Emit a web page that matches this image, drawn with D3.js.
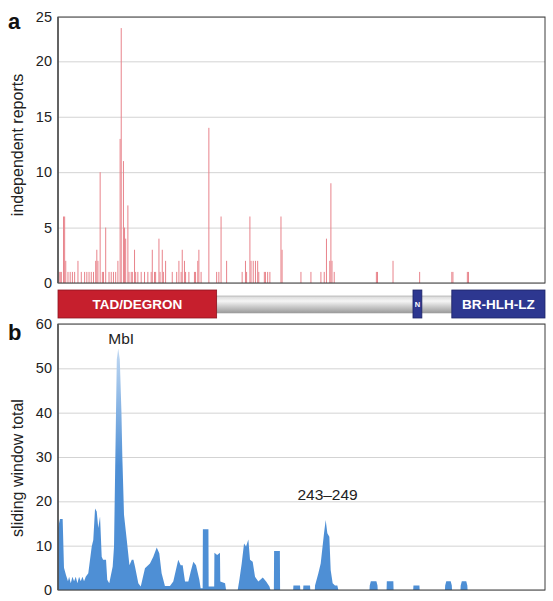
<!DOCTYPE html>
<html><head><meta charset="utf-8">
<script src="https://cdn.jsdelivr.net/npm/d3@7"></script>
<style>body{margin:0;background:#fff} svg{display:block}</style>
</head><body>
<svg id="c" width="553" height="601"></svg>
<script>
// ---------- data ----------
const proteinLength = 439;
const spikeResidues = [1,2,3,5,6,7,9,11,13,15,18,21,24,26,28,30,32,34,35,36,38,40,41,43,46,48,50,52,54,56,57,59,60,61,63,64,66,67,69,70,72,75,78,81,84,85,87,88,91,92,94,95,97,103,107,109,111,112,114,115,118,123,124,126,127,129,136,143,145,147,152,166,169,170,173,174,176,178,180,181,186,187,189,191,201,202,219,228,237,240,242,245,246,247,249,287,288,302,326,355,356,369,370];
const spikeCounts   = [1,1,1,6,6,2,1,1,1,1,2,1,1,1,1,1,1,2,3,2,10,1,1,5,1,1,1,1,2,13,23,11,5,4,7,1,1,1,3,1,1,1,1,1,1,3,1,1,4,1,3,1,2,1,1,2,1,3,2,1,1,1,1,2,3,1,14,1,1,6,2,1,2,1,6,2,2,2,2,1,1,1,1,1,6,3,1,1,1,1,4,2,9,2,1,1,1,2,1,1,1,1,1];
const windowResidues = [0,1.8,4.2,5.4,7.2,9,10,11.5,13,14.5,16,17.5,19,20.5,22,23.5,25,27.3,30.4,31.8,33.4,34.9,36.3,37.9,39.4,40.6,43.3,44.4,46.2,49.3,50.5,51.4,53,54.3,55.7,57.2,58,59.5,62,64.4,66.5,68,69.4,72.4,74.6,78.4,82.9,85.9,89,91.3,93.4,96.4,100.9,103.9,107,108.4,110.6,112.4,114.5,117.5,119.6,122,124.4,127.4,128.6,130.4,130.6,135.6,135.8,140.8,141,143.5,146,146.3,150.6,151.5,162,163.5,165.6,167.7,169.5,171.6,173.1,175.5,177.6,180.6,184.6,187.6,190.6,191.5,194.6,194.8,200,200.2,212,212.2,218.2,218.4,221,221.2,227.2,227.4,231.5,231.7,234.7,236.8,239.8,241.3,242.8,244.6,245.8,247.6,249.7,251.8,252.7,280.8,281,282,287,288,288.2,296.2,296.4,302.3,302.5,320.2,320.4,325.8,326,348.8,349,350,354,355,355.2,362.8,363,364,368,369,369.2,439];
const windowTotals   = [14,16,16,5,3.4,2,3,1.5,3,2,3,1.5,3,2,3,2,3,3.8,9.8,11.3,18.4,17.7,14,16.6,7.5,6.8,6.8,2.3,1.5,5.3,9.8,25,52,54.5,52,40,30,17,11.3,5.6,6.8,6.8,5.3,1.5,0.8,4.9,6,7.5,9.6,8.3,3.8,0.9,0.9,1.9,5.3,6.8,5.6,5.6,1.9,1.9,4.1,6.4,5.6,2.3,0.4,0.4,13.7,13.7,0.8,0.8,8.4,7.9,8.4,1.9,1.5,0,0,2.3,6,10.5,9.8,11.4,6.8,6.4,3,1.9,2.8,1.9,0.8,0,0,8.8,8.8,0,0,1,1,0,0,1,1,0,0,1,3.8,6,12.8,15.8,12.8,12,4.5,1.5,1,1,0,0,1,2,2,1,0,0,2,2,0,0,1,1,0,0,1,2,2,1,0,0,1,2,2,1,0,0];
const reportTicks = [0,5,10,15,20,25];
const windowTicks = [0,10,20,30,40,50,60];
const domainNames  = ["TAD/DEGRON","N","BR-HLH-LZ"];
const domainStarts = [0,320,355];
const domainEnds   = [143,328,439];
const linkerStart = 143, linkerEnd = 355;
const peakLabels = ["MbI","243\u2013249"];
const peakResidues = [57,243];
const peakLabelValues = [55.6,20.3];

// ---------- layout ----------
const svg = d3.select("#c");
const L = 58, R = 545;
const aTop = 17, aBot = 283, bTop = 324, bBot = 590;
const sans = "'Liberation Sans', Arial, Helvetica, sans-serif";
const x = d3.scaleLinear().domain([0, proteinLength]).range([L, R]);
const yA = d3.scaleLinear().domain([0, 24]).range([aBot, aTop]).clamp(true);
const yB = d3.scaleLinear().domain([0, 60]).range([bBot, bTop]);

const defs = svg.append("defs");
const ag = defs.append("linearGradient").attr("id","areaGrad").attr("gradientUnits","userSpaceOnUse")
  .attr("x1",0).attr("x2",0).attr("y1",yB(55)).attr("y2",yB(28));
ag.append("stop").attr("offset","0%").attr("stop-color","#c3daf3");
ag.append("stop").attr("offset","100%").attr("stop-color","#4e8fd5");
const gg = defs.append("linearGradient").attr("id","grayGrad").attr("x1",0).attr("x2",0).attr("y1",0).attr("y2",1);
gg.append("stop").attr("offset","0%").attr("stop-color","#d8d8d8");
gg.append("stop").attr("offset","30%").attr("stop-color","#f5f5f5");
gg.append("stop").attr("offset","100%").attr("stop-color","#9a9a9a");

function gridAxis(scale, ticks) {
  const g = svg.append("g").attr("transform", `translate(${L},0)`)
    .call(d3.axisLeft(scale).tickValues(ticks).tickSizeInner(-(R-L)).tickSizeOuter(0).tickPadding(6));
  g.select(".domain").remove();
  g.selectAll(".tick line").attr("stroke","#d3d3d3").attr("stroke-width",1);
  g.selectAll(".tick text").attr("font-family",sans).attr("font-size",14.5).attr("fill","#222");
  return g;
}
gridAxis(yA, reportTicks);
gridAxis(yB, windowTicks);

// ---------- panel a spikes ----------
const spikes = spikeResidues.map((r,i)=>({r, c: spikeCounts[i]}));
svg.append("g").selectAll("line").data(spikes).join("line")
  .attr("x1", d=>x(d.r)).attr("x2", d=>x(d.r))
  .attr("y1", yA(0)).attr("y2", d=>yA(d.c))
  .attr("stroke","#e8838b").attr("stroke-width",1);

// ---------- panel b area ----------
const win = windowResidues.map((r,i)=>({r, v: windowTotals[i]}));
svg.append("path").datum(win)
  .attr("d", d3.area().x(d=>x(d.r)).y0(yB(0)).y1(d=>yB(d.v)))
  .attr("fill","url(#areaGrad)");

// ---------- frames ----------
[[aTop,aBot],[bTop,bBot]].forEach(([t,b])=>{
  svg.append("rect").attr("x",L).attr("y",t).attr("width",R-L).attr("height",b-t)
    .attr("fill","none").attr("stroke","#3c3c3c").attr("stroke-width",1);
  svg.append("line").attr("x1",L).attr("x2",L).attr("y1",t).attr("y2",b)
    .attr("stroke","#555").attr("stroke-width",1.6);
});

// ---------- domain bar ----------
const barTop = 290, barH = 28;
svg.append("rect").attr("x",x(linkerStart)).attr("y",barTop+6).attr("width",x(linkerEnd)-x(linkerStart)).attr("height",barH-11)
  .attr("fill","url(#grayGrad)").attr("stroke","#a0a0a0").attr("stroke-width",0.6);
const domColors = ["#c61f2d","#2d3790","#2d3790"];
const domStroke = ["#8c1520","#1c2366","#1c2366"];
const domFont = [13.5, 7.5, 13.5];
domainNames.forEach((n,i)=>{
  const x0 = x(domainStarts[i]), x1 = x(domainEnds[i]);
  svg.append("rect").attr("x",x0).attr("y",barTop).attr("width",x1-x0).attr("height",barH)
    .attr("fill",domColors[i]).attr("stroke",domStroke[i]).attr("stroke-width",0.8);
  svg.append("text").attr("x",(x0+x1)/2).attr("y",barTop+barH/2).attr("dy","0.36em")
    .attr("text-anchor","middle").attr("fill","#fff").attr("font-weight","bold")
    .attr("font-family",sans).attr("font-size",domFont[i]).text(n);
});

// ---------- labels ----------
peakLabels.forEach((t,i)=>{
  svg.append("text").attr("x", x(peakResidues[i])).attr("y", yB(peakLabelValues[i]))
    .attr("text-anchor","middle").attr("font-family",sans).attr("font-size",15.5).attr("fill","#222").text(t);
});
svg.append("text").attr("transform",`translate(23,${(aTop+aBot)/2-5}) rotate(-90)`)
  .attr("text-anchor","middle").attr("font-family",sans).attr("font-size",16).attr("fill","#222").text("independent reports");
svg.append("text").attr("transform",`translate(23,${(bTop+bBot)/2+11}) rotate(-90)`)
  .attr("text-anchor","middle").attr("font-family",sans).attr("font-size",16).attr("fill","#222").text("sliding window total");
svg.append("text").attr("x",8).attr("y",29).attr("font-family",sans)
  .attr("font-weight","bold").attr("font-size",22).attr("fill","#111").text("a");
svg.append("text").attr("x",8).attr("y",340).attr("font-family",sans)
  .attr("font-weight","bold").attr("font-size",22).attr("fill","#111").text("b");
</script>
</body></html>
